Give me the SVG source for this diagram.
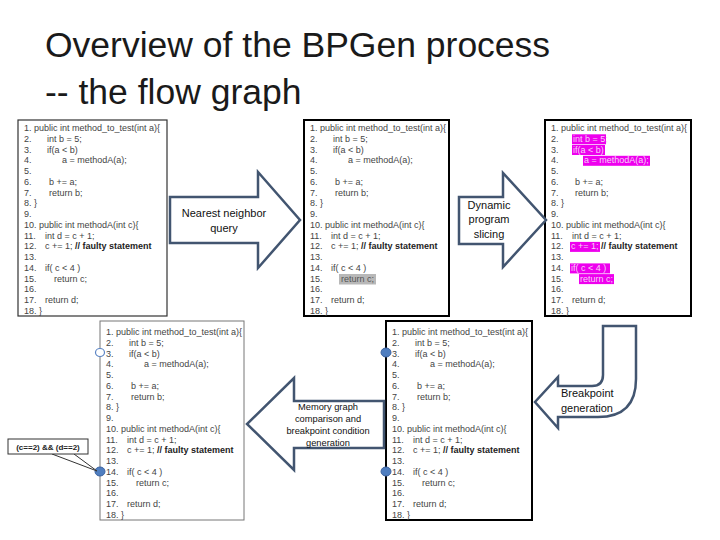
<svg xmlns="http://www.w3.org/2000/svg" width="720" height="540" viewBox="0 0 720 540">
<style>
.title{font-family:"Liberation Sans",Arial,sans-serif;font-size:35.5px;fill:#1a1a1a}
.t{font-family:"Liberation Sans",Arial,sans-serif;font-size:9px;fill:#444}
.b{font-weight:bold;fill:#222}
.panel{fill:#fff;stroke:#000;stroke-width:2}
.p1{stroke:#333;stroke-width:1.2}
.p4{stroke:#777;stroke-width:1}
.arrow{fill:#fff;stroke:#425570;stroke-width:2.5;stroke-linejoin:miter}
.lbl{font-family:"Liberation Sans",Arial,sans-serif;font-size:11px;fill:#111;text-anchor:middle}
.lbs{font-family:"Liberation Sans",Arial,sans-serif;font-size:9.3px;fill:#111;text-anchor:middle}
.hl{fill:#ee00ee}
.hlt{fill:#f6d2f6}
.gray{fill:#b8b8b8}
.dot{fill:#4f7ec0;stroke:#3b62a0;stroke-width:1}
.odot{fill:#fff;stroke:#5b84c4;stroke-width:1.2}
.callout{fill:#fff;stroke:#333;stroke-width:1}
.ctext{font-family:"Liberation Sans",Arial,sans-serif;font-size:8px;font-weight:bold;fill:#222;text-anchor:middle}
</style>
<rect width="720" height="540" fill="#fff"/>
<g id="title">
<text class="title" x="45" y="57">Overview of the BPGen process</text>
<text class="title" x="45" y="104">-- the flow graph</text>
</g>

<g id="panel1" transform="translate(18,120)">
<rect class="panel p1" x="0" y="0" width="149" height="196"/>
<text class="t" x="6" y="11">1. public int method_to_test(int a){</text>
<text class="t" x="6" y="21.8">2.</text><text class="t" x="29" y="21.8">int b = 5;</text>
<text class="t" x="6" y="32.5">3.</text><text class="t" x="29" y="32.5">if(a &lt; b)</text>
<text class="t" x="6" y="43.3">4.</text><text class="t" x="44" y="43.3">a = methodA(a);</text>
<text class="t" x="6" y="54">5.</text>
<text class="t" x="6" y="64.8">6.</text><text class="t" x="31" y="64.8">b += a;</text>
<text class="t" x="6" y="75.6">7.</text><text class="t" x="31" y="75.6">return b;</text>
<text class="t" x="6" y="86.3">8. }</text>
<text class="t" x="6" y="97.1">9.</text>
<text class="t" x="6" y="107.8">10. public int methodA(int c){</text>
<text class="t" x="6" y="118.6">11.</text><text class="t" x="27" y="118.6">int d = c + 1;</text>
<text class="t" x="6" y="129.4">12.</text><text class="t" x="27" y="129.4">c += 1; <tspan class="b">// faulty statement</tspan></text>
<text class="t" x="6" y="140.1">13.</text>
<text class="t" x="6" y="150.9">14.</text><text class="t" x="27" y="150.9">if( c &lt; 4 )</text>
<text class="t" x="6" y="161.6">15.</text><text class="t" x="36" y="161.6">return c;</text>
<text class="t" x="6" y="172.4">16.</text>
<text class="t" x="6" y="183.2">17.</text><text class="t" x="27" y="183.2">return d;</text>
<text class="t" x="6" y="193.9">18. }</text>
</g>

<g id="panel2" transform="translate(304,120)">
<rect class="panel" x="0" y="0" width="145" height="196"/>
<rect class="gray" x="35" y="154" width="37" height="10.5"/>
<text class="t" x="6" y="11">1. public int method_to_test(int a){</text>
<text class="t" x="6" y="21.8">2.</text><text class="t" x="29" y="21.8">int b = 5;</text>
<text class="t" x="6" y="32.5">3.</text><text class="t" x="29" y="32.5">if(a &lt; b)</text>
<text class="t" x="6" y="43.3">4.</text><text class="t" x="44" y="43.3">a = methodA(a);</text>
<text class="t" x="6" y="54">5.</text>
<text class="t" x="6" y="64.8">6.</text><text class="t" x="31" y="64.8">b += a;</text>
<text class="t" x="6" y="75.6">7.</text><text class="t" x="31" y="75.6">return b;</text>
<text class="t" x="6" y="86.3">8. }</text>
<text class="t" x="6" y="97.1">9.</text>
<text class="t" x="6" y="107.8">10. public int methodA(int c){</text>
<text class="t" x="6" y="118.6">11.</text><text class="t" x="27" y="118.6">int d = c + 1;</text>
<text class="t" x="6" y="129.4">12.</text><text class="t" x="27" y="129.4">c += 1; <tspan class="b">// faulty statement</tspan></text>
<text class="t" x="6" y="140.1">13.</text>
<text class="t" x="6" y="150.9">14.</text><text class="t" x="27" y="150.9">if( c &lt; 4 )</text>
<text class="t" x="6" y="161.6">15.</text><text class="t" x="37" y="161.6" style="fill:#555">return c;</text>
<text class="t" x="6" y="172.4">16.</text>
<text class="t" x="6" y="183.2">17.</text><text class="t" x="27" y="183.2">return d;</text>
<text class="t" x="6" y="193.9">18. }</text>
</g>

<g id="panel3" transform="translate(545,120)">
<rect class="panel" x="0" y="0" width="146" height="196"/>
<rect class="hl" x="27" y="14.3" width="34" height="10"/>
<rect class="hl" x="27" y="25" width="33" height="10"/>
<rect class="hl" x="38" y="35.8" width="67" height="10"/>
<rect class="hl" x="25" y="121.9" width="30" height="10"/>
<rect class="hl" x="25" y="143.4" width="40" height="10"/>
<rect class="hl" x="34" y="154.1" width="35" height="10"/>
<text class="t" x="6" y="11">1. public int method_to_test(int a){</text>
<text class="t" x="6" y="21.8">2.</text><text class="t hlt" x="28" y="21.8">int b = 5;</text>
<text class="t" x="6" y="32.5">3.</text><text class="t hlt" x="28" y="32.5">if(a &lt; b)</text>
<text class="t" x="6" y="43.3">4.</text><text class="t hlt" x="39" y="43.3">a = methodA(a);</text>
<text class="t" x="6" y="54">5.</text>
<text class="t" x="6" y="64.8">6.</text><text class="t" x="30" y="64.8">b += a;</text>
<text class="t" x="6" y="75.6">7.</text><text class="t" x="30" y="75.6">return b;</text>
<text class="t" x="6" y="86.3">8. }</text>
<text class="t" x="6" y="97.1">9.</text>
<text class="t" x="6" y="107.8">10. public int methodA(int c){</text>
<text class="t" x="6" y="118.6">11.</text><text class="t" x="27" y="118.6">int d = c + 1;</text>
<text class="t" x="6" y="129.4">12.</text><text class="t" x="26" y="129.4"><tspan class="hlt">c += 1;</tspan> <tspan class="b">// faulty statement</tspan></text>
<text class="t" x="6" y="140.1">13.</text>
<text class="t" x="6" y="150.9">14.</text><text class="t hlt" x="26" y="150.9">if( c &lt; 4 )</text>
<text class="t" x="6" y="161.6">15.</text><text class="t hlt" x="35" y="161.6">return c;</text>
<text class="t" x="6" y="172.4">16.</text>
<text class="t" x="6" y="183.2">17.</text><text class="t" x="27" y="183.2">return d;</text>
<text class="t" x="6" y="193.9">18. }</text>
</g>

<g id="panel4" transform="translate(100,324)">
<rect class="panel p4" x="0" y="-3" width="144" height="199"/>
<text class="t" x="6" y="11">1. public int method_to_test(int a){</text>
<text class="t" x="6" y="21.8">2.</text><text class="t" x="29" y="21.8">int b = 5;</text>
<text class="t" x="6" y="32.5">3.</text><text class="t" x="29" y="32.5">if(a &lt; b)</text>
<text class="t" x="6" y="43.3">4.</text><text class="t" x="44" y="43.3">a = methodA(a);</text>
<text class="t" x="6" y="54">5.</text>
<text class="t" x="6" y="64.8">6.</text><text class="t" x="31" y="64.8">b += a;</text>
<text class="t" x="6" y="75.6">7.</text><text class="t" x="31" y="75.6">return b;</text>
<text class="t" x="6" y="86.3">8. }</text>
<text class="t" x="6" y="97.1">9.</text>
<text class="t" x="6" y="107.8">10. public int methodA(int c){</text>
<text class="t" x="6" y="118.6">11.</text><text class="t" x="27" y="118.6">int d = c + 1;</text>
<text class="t" x="6" y="129.4">12.</text><text class="t" x="27" y="129.4">c += 1; <tspan class="b">// faulty statement</tspan></text>
<text class="t" x="6" y="140.1">13.</text>
<text class="t" x="6" y="150.9">14.</text><text class="t" x="27" y="150.9">if( c &lt; 4 )</text>
<text class="t" x="6" y="161.6">15.</text><text class="t" x="36" y="161.6">return c;</text>
<text class="t" x="6" y="172.4">16.</text>
<text class="t" x="6" y="183.2">17.</text><text class="t" x="27" y="183.2">return d;</text>
<text class="t" x="6" y="193.9">18. }</text>
<ellipse class="odot" cx="0" cy="28.5" rx="4.5" ry="4"/>
<ellipse class="dot" cx="0" cy="147.5" rx="5" ry="4.5"/>
</g>

<g id="panel5" transform="translate(386,324)">
<rect class="panel" x="0" y="-3" width="146" height="199"/>
<text class="t" x="6" y="11">1. public int method_to_test(int a){</text>
<text class="t" x="6" y="21.8">2.</text><text class="t" x="29" y="21.8">int b = 5;</text>
<text class="t" x="6" y="32.5">3.</text><text class="t" x="29" y="32.5">if(a &lt; b)</text>
<text class="t" x="6" y="43.3">4.</text><text class="t" x="44" y="43.3">a = methodA(a);</text>
<text class="t" x="6" y="54">5.</text>
<text class="t" x="6" y="64.8">6.</text><text class="t" x="31" y="64.8">b += a;</text>
<text class="t" x="6" y="75.6">7.</text><text class="t" x="31" y="75.6">return b;</text>
<text class="t" x="6" y="86.3">8. }</text>
<text class="t" x="6" y="97.1">9.</text>
<text class="t" x="6" y="107.8">10. public int methodA(int c){</text>
<text class="t" x="6" y="118.6">11.</text><text class="t" x="27" y="118.6">int d = c + 1;</text>
<text class="t" x="6" y="129.4">12.</text><text class="t" x="27" y="129.4">c += 1; <tspan class="b">// faulty statement</tspan></text>
<text class="t" x="6" y="140.1">13.</text>
<text class="t" x="6" y="150.9">14.</text><text class="t" x="27" y="150.9">if( c &lt; 4 )</text>
<text class="t" x="6" y="161.6">15.</text><text class="t" x="36" y="161.6">return c;</text>
<text class="t" x="6" y="172.4">16.</text>
<text class="t" x="6" y="183.2">17.</text><text class="t" x="27" y="183.2">return d;</text>
<text class="t" x="6" y="193.9">18. }</text>
<ellipse class="dot" cx="0" cy="28.5" rx="5" ry="4.5"/>
<ellipse class="dot" cx="0" cy="147.5" rx="5" ry="4.5"/>
</g>

<g id="callout">
<path d="M52,454 L97,471 L74,454" fill="#fff" stroke="#333" stroke-width="1"/>
<rect class="callout" x="8" y="439" width="80" height="15"/>
<text class="ctext" x="48" y="449.5">(c==2) &amp;&amp; (d==2)</text>
</g>

<g id="connectors">
<g id="arrow-nn">
<path class="arrow" d="M170,197 L258,197 L258,172 L300,220 L258,268 L258,243 L170,243 Z"/>
<text class="lbl" x="224" y="217">Nearest neighbor</text>
<text class="lbl" x="224" y="232">query</text>
</g>
<g id="arrow-slice">
<path class="arrow" d="M459,197 L503,197 L503,173 L546,220 L503,267 L503,244 L459,244 Z"/>
<text class="lbl" x="489" y="209">Dynamic</text>
<text class="lbl" x="489" y="223">program</text>
<text class="lbl" x="489" y="238">slicing</text>
</g>
<g id="arrow-bp">
<path class="arrow" d="M603,326 L636,326 L636,379 Q636,417 598,417 L558,417 L558,428 L535,402 L558,377 L558,386 L592,386 Q603,386 603,375 Z"/>
<text class="lbl" x="561" y="397" style="text-anchor:start">Breakpoint</text>
<text class="lbl" x="561" y="412" style="text-anchor:start">generation</text>
</g>
<g id="arrow-mem">
<path class="arrow" d="M384,401 L294,401 L294,378 L247,424 L294,470 L294,448 L384,448 Z"/>
<text class="lbs" x="328" y="410">Memory graph</text>
<text class="lbs" x="328" y="422">comparison and</text>
<text class="lbs" x="328" y="434">breakpoint condition</text>
<text class="lbs" x="328" y="446">generation</text>
</g>
</g>
</svg>
